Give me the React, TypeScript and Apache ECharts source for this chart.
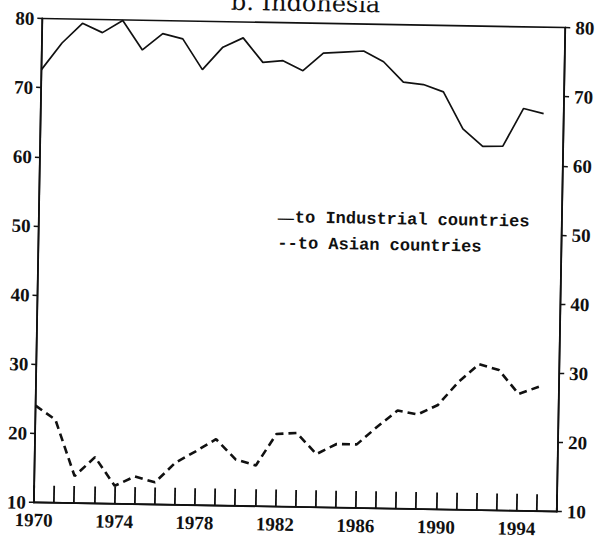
import React, { useEffect, useRef } from "react";
import * as echarts from "echarts";

const years = [1970, 1971, 1972, 1973, 1974, 1975, 1976, 1977, 1978, 1979, 1980, 1981, 1982,
  1983, 1984, 1985, 1986, 1987, 1988, 1989, 1990, 1991, 1992, 1993, 1994, 1995];

const toIndustrial = [72.6, 76.5, 79.4, 78.1, 79.9, 75.7, 78.1, 77.4, 73.0, 76.3, 77.7, 74.2, 74.5,
  73.1, 75.7, 75.9, 76.1, 74.6, 71.7, 71.4, 70.4, 65.1, 62.6, 62.7, 68.2, 67.5];

const toAsian = [24.0, 22.0, 13.9, 16.7, 12.6, 14.0, 13.2, 16.1, 17.8, 19.6, 16.7, 15.9, 20.5,
  20.7, 17.7, 19.2, 19.2, 21.8, 24.2, 23.7, 25.1, 28.5, 31.1, 30.3, 26.9, 28.0];

const yTicks = [10, 20, 30, 40, 50, 60, 70, 80];
const xLabelYears = [1970, 1974, 1978, 1982, 1986, 1990, 1994];

const titleText = "b. Indonesia";
const legendIndustrial = "to Industrial countries";
const legendAsian = "to Asian countries";

export default function App() {
  const ref = useRef<HTMLDivElement>(null);

  useEffect(() => {
    document.body.style.margin = "0";
    const chart = echarts.init(ref.current!, null, { renderer: "svg" });
    const ink = "#111";
    const tickFont = {
      fontFamily: "Liberation Serif",
      fontWeight: "bold" as const,
      fontSize: 19,
      color: ink,
    };
    const yAxisBase = {
      type: "value" as const,
      min: yTicks[0],
      max: yTicks[yTicks.length - 1],
      interval: 10,
      splitLine: { show: false },
      axisLine: { show: true, lineStyle: { color: ink, width: 1.8 } },
      axisTick: { show: true, inside: false, length: 5, lineStyle: { color: ink, width: 1.5 } },
    };
    chart.setOption({
      animation: false,
      backgroundColor: "#fff",
      title: {
        text: titleText,
        left: "center",
        top: -9,
        padding: 0,
        textStyle: { fontFamily: "DejaVu Serif", fontSize: 24, fontWeight: "normal", color: ink },
      },
      grid: {
        left: 38,
        top: 23,
        width: 523,
        height: 484,
        show: true,
        borderColor: ink,
        borderWidth: 1.6,
        backgroundColor: "transparent",
      },
      xAxis: {
        type: "value",
        min: 1970,
        max: 1996,
        interval: 1,
        splitLine: { show: false },
        axisLine: { show: true, lineStyle: { color: ink, width: 1.8 } },
        axisTick: { show: true, inside: true, length: 17, lineStyle: { color: ink, width: 1.8 } },
        axisLabel: {
          ...tickFont,
          margin: 8,
          formatter: (v: number) => (xLabelYears.includes(v) ? String(v) : ""),
        },
      },
      yAxis: [
        {
          ...yAxisBase,
          position: "left",
          axisLabel: { ...tickFont, margin: 8 },
        },
        {
          ...yAxisBase,
          position: "right",
          axisLabel: { ...tickFont, margin: 10 },
        },
      ],
      series: [
        {
          name: legendIndustrial,
          type: "line",
          data: years.map((y, i) => [y, toIndustrial[i]]),
          showSymbol: false,
          lineStyle: { color: ink, width: 1.7, type: "solid" },
        },
        {
          name: legendAsian,
          type: "line",
          data: years.map((y, i) => [y, toAsian[i]]),
          showSymbol: false,
          lineStyle: { color: ink, width: 2.6, type: [8, 5] },
        },
      ],
      graphic: [
        {
          type: "text",
          x: 276,
          y: 218,
          style: {
            text: "{d|—}{t|" + legendIndustrial + "}",
            verticalAlign: "middle",
            rich: {
              d: { fontFamily: "DejaVu Sans", fontSize: 18, fill: ink },
              t: { fontFamily: "Liberation Mono", fontWeight: "bold", fontSize: 17, fill: ink },
            },
          },
        },
        {
          type: "text",
          x: 277,
          y: 244,
          style: {
            text: "--" + legendAsian,
            verticalAlign: "middle",
            fontFamily: "Liberation Mono",
            fontWeight: "bold",
            fontSize: 17,
            fill: ink,
          },
        },
      ],
    });
    return () => chart.dispose();
  }, []);

  return (
    <div
      ref={ref}
      style={{
        position: "absolute",
        left: 0,
        top: 0,
        width: 602,
        height: 538,
        transform: "rotate(1deg)",
        transformOrigin: "301px 269px",
      }}
    />
  );
}
